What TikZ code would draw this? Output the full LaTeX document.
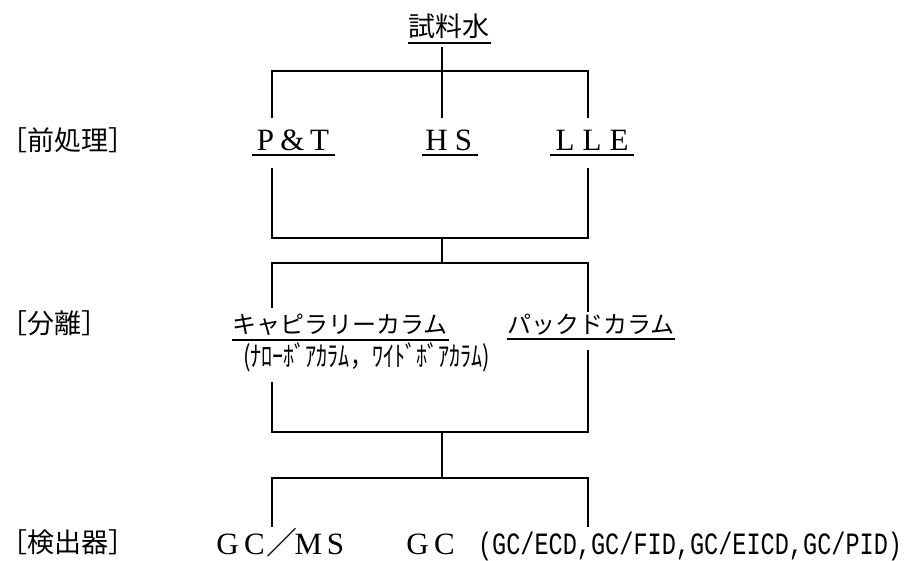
\documentclass[tikz,border=0pt]{standalone}
\usepackage{fontspec}
\setmainfont{Liberation Serif}
\newfontfamily\jpf{Noto Sans CJK JP}
\newfontfamily\monof{Liberation Mono}
\newcommand\fwl[1]{\makebox[27pt]{#1}}
\newcommand\fwm[1]{\makebox[27pt]{#1}}
\begin{document}
\begin{tikzpicture}[x=1pt,y=-1pt,
  ln/.style={line width=1.6pt, line join=miter},
  ul/.style={line width=1.3pt},
  txt/.style={inner sep=0pt, outer sep=0pt},
  jpbig/.style={txt, font=\jpf\fontsize{27}{27}\selectfont},
  jpmid/.style={txt, font=\jpf\fontsize{24}{24}\selectfont},
  jpsmall/.style={txt, font=\jpf\fontsize{28}{28}\selectfont},
  lat/.style={txt, anchor=base, font=\fontsize{31}{31}\selectfont},
  mono/.style={txt, anchor=base west, font=\monof\fontsize{31}{31}\selectfont},
]
\useasboundingbox (0,0) rectangle (915,560);

% texts
\node[jpbig] (src) at (449,26) {試料水};
\node[lat] (pt) at (292.5,150) {\fwl{P}\fwl{\&}\fwl{T}};
\node[lat] (hs) at (450,150) {\fwl{H}\fwl{S}};
\node[lat] (lle) at (592,150) {\fwl{L}\fwl{L}\fwl{E}};
\node[jpmid, anchor=west] (cap) at (232,325) {キャピラリーカラム};
\node[jpmid, anchor=west] (pack) at (507,325) {パックドカラム};
\node[jpsmall, anchor=west] (capsub) at (243,357) {\scalebox{0.79}[1]{(ﾅﾛｰﾎﾞｱｶﾗﾑ，ﾜｲﾄﾞﾎﾞｱｶﾗﾑ)}};
\node[lat, anchor=base west] (gcms) at (214,554) {\fwm{G}\fwm{C}\fwm{\jpf ／}\fwm{M}\fwm{S}};
\node[lat, anchor=base west] (gc) at (404,554) {\fwm{G}\fwm{C}};
\node[mono] (gcsub) at (478,554) {\scalebox{0.76}[1]{(GC/ECD,GC/FID,GC/EICD,GC/PID)}};

\node[jpbig, anchor=west] (l1) at (0,140) {［前処理］};
\node[jpbig, anchor=west] (l2) at (0,323) {［分離］};
\node[jpbig, anchor=west] (l3) at (0,542) {［検出器］};

% underlines
\draw[ul] (408,43) -- (491,43);
\draw[ul] (252,155) -- (335,155);
\draw[ul] (422,155) -- (478,155);
\draw[ul] (550,155) -- (634,155);
\draw[ul] (232,340) -- (449,340);
\draw[ul] (507,339) -- (675,339);

% junction coordinates
\coordinate (s1) at (442,47);
\coordinate (jA) at (442,71);
\coordinate (aL) at (272,71);
\coordinate (aR) at (588,71);
\coordinate (ptT) at (272,118);
\coordinate (hsT) at (442,118);
\coordinate (lleT) at (588,118);
\coordinate (ptB) at (272,168);
\coordinate (lleB) at (588,168);
\coordinate (bL) at (272,238);
\coordinate (bR) at (588,238);
\coordinate (jB) at (442,238);
\coordinate (jC) at (442,263);
\coordinate (cL) at (272,263);
\coordinate (cR) at (588,263);
\coordinate (capT) at (272,308);
\coordinate (packT) at (588,312);
\coordinate (capB) at (272,382);
\coordinate (packB) at (588,350);
\coordinate (dL) at (272,432);
\coordinate (dR) at (588,432);
\coordinate (jD) at (442,432);
\coordinate (jE) at (442,478);
\coordinate (eL) at (272,478);
\coordinate (eR) at (588,478);
\coordinate (gcmsT) at (272,527);
\coordinate (gcT) at (588,527);

% connectors
\draw[ln] (s1) -- (jA);
\draw[ln] (ptT) -- (aL) -- (aR) -- (lleT);
\draw[ln] (jA) -- (hsT);
\draw[ln] (ptB) -- (bL) -- (bR) -- (lleB);
\draw[ln] (jB) -- (jC);
\draw[ln] (capT) -- (cL) -- (cR) -- (packT);
\draw[ln] (capB) -- (dL) -- (dR) -- (packB);
\draw[ln] (jD) -- (jE);
\draw[ln] (gcmsT) -- (eL) -- (eR) -- (gcT);
\end{tikzpicture}
\end{document}
